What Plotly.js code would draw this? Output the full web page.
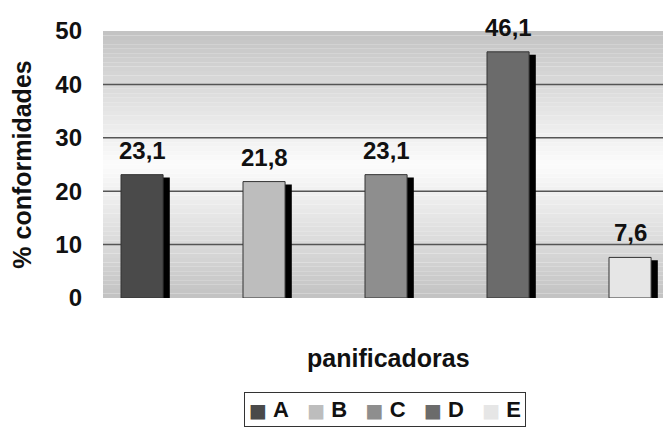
<!DOCTYPE html>
<html>
<head>
<meta charset="utf-8">
<script src="https://cdn.plot.ly/plotly-3.0.1.min.js"></script>
<style>html,body{margin:0;padding:0;background:#fff;}#chart{width:663px;height:438px;}</style>
</head>
<body>
<div id="chart"></div>
<script>
const categories = ['A', 'B', 'C', 'D', 'E'];
const values = [23.1, 21.8, 23.1, 46.1, 7.6];
const colors = ['#4a4a4a', '#bdbdbd', '#8e8e8e', '#6b6b6b', '#e6e6e6'];
const yTicks = [0, 10, 20, 30, 40, 50];
const gridVals = [10, 20, 30, 40];

const FONT = 'Liberation Sans, Arial, sans-serif';
const BW = 0.345;

const traces = [];
// shadows
categories.forEach((c, i) => {
  traces.push({
    type: 'bar', x: [i], y: [values[i] - 0.55], width: BW, offset: -BW / 2 + 0.055,
    marker: {color: '#000'}, showlegend: false, hoverinfo: 'skip'
  });
});
categories.forEach((c, i) => {
  traces.push({
    type: 'bar', name: c, x: [i], y: [values[i]], width: BW, offset: -BW / 2,
    marker: {color: colors[i], line: {color: '#333', width: 1}}, showlegend: false
  });
});

const shapes = [];
const N = 60;
for (let k = 0; k < N; k++) {
  const y0 = 50 * k / N, y1 = 50 * (k + 1) / N;
  const mid = (y0 + y1) / 2;
  const l = Math.round(252 - 2.3 * Math.abs(mid - 25));
  shapes.push({type: 'rect', xref: 'paper', yref: 'y', x0: 0, x1: 1, y0: y0, y1: y1,
    fillcolor: `rgb(${l},${l},${l})`, line: {width: 0}, layer: 'below'});
}
gridVals.forEach(v => {
  shapes.push({type: 'line', xref: 'paper', yref: 'y', x0: 0, x1: 1, y0: v, y1: v,
    line: {color: '#555', width: 1.5}, layer: 'below'});
});

const annotations = values.map((v, i) => ({
  x: i, y: v, text: v.toFixed(1).replace('.', ','), showarrow: false,
  yanchor: 'bottom', yshift: 9, font: {family: FONT, size: 24, color: '#111', weight: 'bold'}
}));
annotations.push({
  xref: 'paper', yref: 'paper', x: 0.51, y: -0.225, yanchor: 'middle', text: 'panificadoras',
  showarrow: false, font: {family: FONT, size: 25, color: '#111', weight: 'bold'}
});
// legend box
const legendText = categories.map((c, i) =>
  `<span style="color:${colors[i]};font-family:DejaVu Sans;font-size:19px">■</span>&nbsp;${c}`
).join('&nbsp;&nbsp;&nbsp;');
annotations.push({
  xref: 'paper', yref: 'paper', x: 0.504, y: -0.416, xanchor: 'center', yanchor: 'middle',
  text: legendText, showarrow: false, bordercolor: '#333', borderwidth: 1, borderpad: 4,
  bgcolor: '#fff', font: {family: FONT, size: 22, color: '#111', weight: 'bold'}
});

const layout = {
  width: 663, height: 438,
  margin: {l: 103, r: 0, t: 31, b: 140},
  paper_bgcolor: '#fff', plot_bgcolor: '#fff',
  barmode: 'overlay',
  showlegend: false,
  xaxis: {range: [-0.32, 4.27], showticklabels: false, showgrid: false, zeroline: false,
    showline: false, ticks: ''},
  yaxis: {range: [0, 50], tickvals: yTicks, showgrid: false, zeroline: false, showline: false,
    ticks: '', ticklabelstandoff: 20,
    tickfont: {family: FONT, size: 24, color: '#111', weight: 'bold'},
    title: {text: '% conformidades', standoff: 16, font: {family: FONT, size: 25, color: '#111', weight: 'bold'}}},
  shapes: shapes,
  annotations: annotations
};

Plotly.newPlot('chart', traces, layout, {displayModeBar: false, staticPlot: true});
</script>
</body>
</html>
